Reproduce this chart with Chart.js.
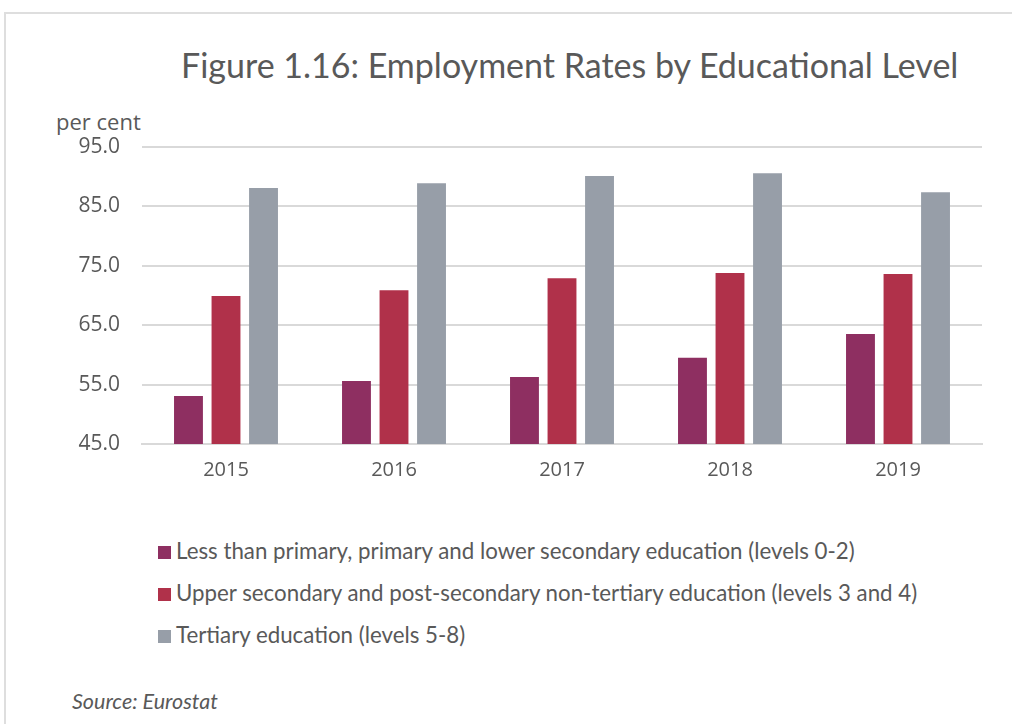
<!DOCTYPE html>
<html>
<head>
<meta charset="utf-8">
<script src="https://cdn.jsdelivr.net/npm/chart.js@4.4.0/dist/chart.umd.min.js"></script>
<style>
    body { margin: 0; background: #fff; width: 1012px; height: 724px; overflow: hidden; position: relative; }
    #frame { position: absolute; left: 4px; top: 12px; width: 1100px; height: 800px; border: 2px solid #dedede; }
    #title { position: absolute; left: 181px; top: 44px; font-family: Lato, sans-serif; font-size: 34px; color: #595959; white-space: nowrap; }
    #unit { position: absolute; left: 56px; top: 106px; font-family: "Open Sans", sans-serif; font-size: 22px; color: #595959; }
    #wrap { position: absolute; left: 0; top: 110px; width: 1012px; height: 400px; }
    #legend { position: absolute; left: 158px; top: 536px; font-family: Lato, sans-serif; font-size: 22.3px; color: #595959; }
    #legend div { height: 42px; line-height: 30px; white-space: nowrap; }
    #legend span { display: inline-block; width: 13px; height: 13px; margin-right: 5px; }
    #source { position: absolute; left: 72px; top: 688px; font-family: Lato, sans-serif; font-style: italic; font-size: 21.5px; color: #595959; }
</style>
</head>
<body>
<div id="frame"></div>
<div id="title">Figure 1.16: Employment Rates by Educational Level</div>
<div id="unit">per cent</div>
<div id="wrap"><canvas id="myChart"></canvas></div>
<div id="legend"></div>
<div id="source">Source: Eurostat</div>
<script>
var years = ['2015', '2016', '2017', '2018', '2019'];
var lowerEdu = [53.1, 55.6, 56.3, 59.5, 63.5];
var upperSecEdu = [69.9, 70.9, 72.9, 73.8, 73.6];
var tertiaryEdu = [88.1, 88.9, 90.1, 90.6, 87.4];
var seriesNames = [
    'Less than primary, primary and lower secondary education (levels 0-2)',
    'Upper secondary and post-secondary non-tertiary education (levels 3 and 4)',
    'Tertiary education (levels 5-8)'
];
var seriesColors = ['#8e2f61', '#b0314a', '#979ea8'];
var yMin = 45, yMax = 95, yStep = 10;

var values = [lowerEdu, upperSecEdu, tertiaryEdu];
var datasets = values.map(function (v, i) {
    return {
        label: seriesNames[i],
        data: v,
        backgroundColor: seriesColors[i],
        barPercentage: 0.77,
        categoryPercentage: 0.67
    };
});

var ctx = document.getElementById('myChart').getContext('2d');
var myChart = new Chart(ctx, {
    type: 'bar',
    data: { labels: years, datasets: datasets },
    options: {
        responsive: true,
        maintainAspectRatio: false,
        animation: false,
        layout: { padding: { top: 37, right: 30, left: 0, bottom: 0 } },
        plugins: {
            legend: { display: false },
            tooltip: { enabled: false }
        },
        scales: {
            x: {
                grid: { display: false, drawTicks: false },
                border: { display: true, color: '#d9d9d9', width: 2 },
                ticks: { color: '#595959', font: { family: 'Open Sans', size: 20 }, padding: 14 },
                afterFit: function (scale) { scale.height = 66; }
            },
            y: {
                min: yMin,
                max: yMax,
                grid: { color: '#d9d9d9', lineWidth: 2, drawTicks: false },
                border: { display: false },
                ticks: {
                    stepSize: yStep,
                    color: '#595959',
                    font: { family: 'Open Sans', size: 21 },
                    padding: 22,
                    callback: function (v) { return v.toFixed(1); }
                },
                afterFit: function (scale) { scale.width = 142; }
            }
        }
    }
});

var legend = document.getElementById('legend');
datasets.forEach(function (d) {
    var row = document.createElement('div');
    var box = document.createElement('span');
    box.style.background = d.backgroundColor;
    row.appendChild(box);
    row.appendChild(document.createTextNode(d.label));
    legend.appendChild(row);
});
</script>
</body>
</html>
